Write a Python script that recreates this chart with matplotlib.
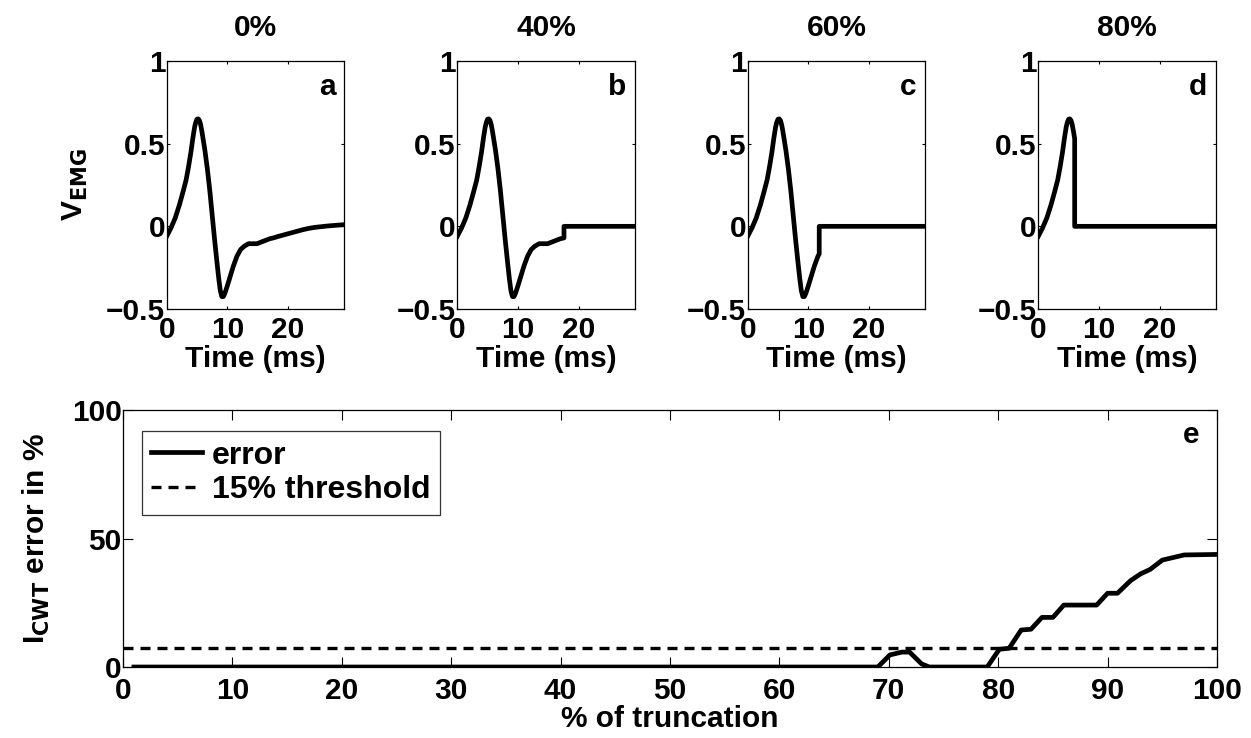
import matplotlib
matplotlib.use('Agg')
import matplotlib.pyplot as plt
import numpy as np

plt.rcParams['font.family'] = ['Liberation Sans', 'DejaVu Sans']
plt.rcParams['font.weight'] = 'bold'
plt.rcParams['axes.labelweight'] = 'bold'
plt.rcParams['axes.titleweight'] = 'bold'

# EMG signal (time in ms, amplitude)
t_sig = [0, 0.7, 1.4, 2.1, 2.7, 3.2, 3.6, 4.0, 4.3, 4.6, 4.8, 5.0, 5.2, 5.4, 5.6,
         5.8, 6.0, 6.3, 6.7, 7.1, 7.5, 7.9, 8.3, 8.6, 8.85, 9.1, 9.35, 9.6, 10.0,
         10.5, 11.0, 11.6, 12.2, 12.8, 13.5, 14.2, 14.9, 15.6, 16.3, 17.0, 17.6,
         18.5, 19.5, 20.5, 21.5, 22.5, 23.5, 24.5, 25.5, 26.5, 27.5, 28.5, 29.3]
v_sig = [-0.06, -0.01, 0.05, 0.13, 0.21, 0.28, 0.36, 0.45, 0.53, 0.60, 0.63, 0.648,
         0.65, 0.64, 0.615, 0.575, 0.53, 0.46, 0.35, 0.22, 0.07, -0.08, -0.22, -0.32,
         -0.39, -0.425, -0.425, -0.405, -0.36, -0.30, -0.24, -0.18, -0.14, -0.12,
         -0.105, -0.105, -0.105, -0.095, -0.085, -0.075, -0.07, -0.06, -0.05, -0.04,
         -0.03, -0.02, -0.012, -0.006, -0.002, 0.002, 0.005, 0.008, 0.01]

panel_titles = ['0%', '40%', '60%', '80%']
panel_letters = ['a', 'b', 'c', 'd']
cut_times = [29.3, 17.6, 11.8, 6.0]

# truncation error curve
trunc_pct = [1, 69, 70.1, 71.2, 71.9, 73.0, 73.7, 79, 80.1, 81, 82.1, 83, 84, 85, 86,
             89, 90, 90.9, 92.1, 93, 93.9, 95, 95.7, 97, 100]
err_pct = [0, 0, 4.7, 5.8, 5.8, 1.2, 0, 0, 6.9, 7.3, 14.4, 14.7, 19.3, 19.3, 24.1,
           24.1, 28.7, 28.7, 33.6, 36.2, 38.0, 41.6, 42.3, 43.6, 43.8]
threshold = 7.4

fs = 21.5
W, H = 1251, 738
fig = plt.figure(figsize=(W / 100, H / 100), dpi=100)

t_arr = np.array(t_sig)
v_arr = np.array(v_sig)
lefts = [166.7, 457.3, 747.7, 1038.3]
for i, left in enumerate(lefts):
    ax = fig.add_axes([left / W, 1 - 309 / H, 177.6 / W, 248 / H])
    cut = cut_times[i]
    keep = t_arr < cut
    tt = list(t_arr[keep])
    vv = list(v_arr[keep])
    if cut < t_sig[-1]:
        vc = np.interp(cut, t_arr, v_arr)
        tt += [cut, cut, t_sig[-1]]
        vv += [vc, 0, 0]
    else:
        tt.append(t_sig[-1])
        vv.append(v_sig[-1])
    ax.plot(tt, vv, color='black', lw=3.4, solid_joinstyle='round')
    ax.set_xlim(0, 29.3)
    ax.set_ylim(-0.5, 1)
    ax.set_xticks([0, 10, 20])
    ax.set_yticks([-0.5, 0, 0.5, 1])
    ax.set_yticklabels(['\u22120.5', '0', '0.5', '1'])
    ax.tick_params(direction='in', top=True, right=True, length=2.5, width=0.8,
                   labelsize=fs, pad=1)
    ax.tick_params(axis='x', pad=5)
    for s in ax.spines.values():
        s.set_linewidth(0.9)
    ax.set_title(panel_titles[i], fontsize=fs, pad=18)
    ax.set_xlabel('Time (ms)', fontsize=fs, labelpad=1)
    ax.text(0.95, 0.863, panel_letters[i], transform=ax.transAxes, ha='right',
            va='baseline', fontsize=fs)
    if i == 0:
        ax.set_ylabel(r'V$_\mathbf{EMG}$', fontsize=fs, labelpad=12)

ax = fig.add_axes([123 / W, 1 - 667 / H, 1094 / W, 257 / H])
ax.plot(trunc_pct, err_pct, color='black', lw=3.4, label='error')
ax.axhline(threshold, color='black', lw=2.4, ls=(0, (3, 2.1)), label='15% threshold')
ax.set_xlim(0, 100)
ax.set_ylim(0, 100)
ax.set_xticks(np.arange(0, 101, 10))
ax.set_yticks([0, 50, 100])
ax.tick_params(direction='in', top=True, right=True, length=7, width=0.8,
               labelsize=fs, pad=1)
ax.tick_params(axis='x', pad=7)
for s in ax.spines.values():
    s.set_linewidth(0.9)
ax.set_xlabel('% of truncation', fontsize=fs, labelpad=0)
ax.set_ylabel(r'I$_\mathbf{CWT}$ error in %', fontsize=fs, labelpad=14)
ax.text(0.9835, 0.872, 'e', transform=ax.transAxes, ha='right', va='baseline',
        fontsize=fs)
leg = ax.legend(loc='upper left', bbox_to_anchor=(0.017, 0.918), borderaxespad=0,
                fontsize=23, frameon=True, fancybox=False, edgecolor='black',
                handlelength=1.6, handletextpad=0.3, borderpad=0.3, labelspacing=0.15)
leg.get_frame().set_linewidth(0.9)

fig.savefig('out.png', dpi=100, facecolor='white')
